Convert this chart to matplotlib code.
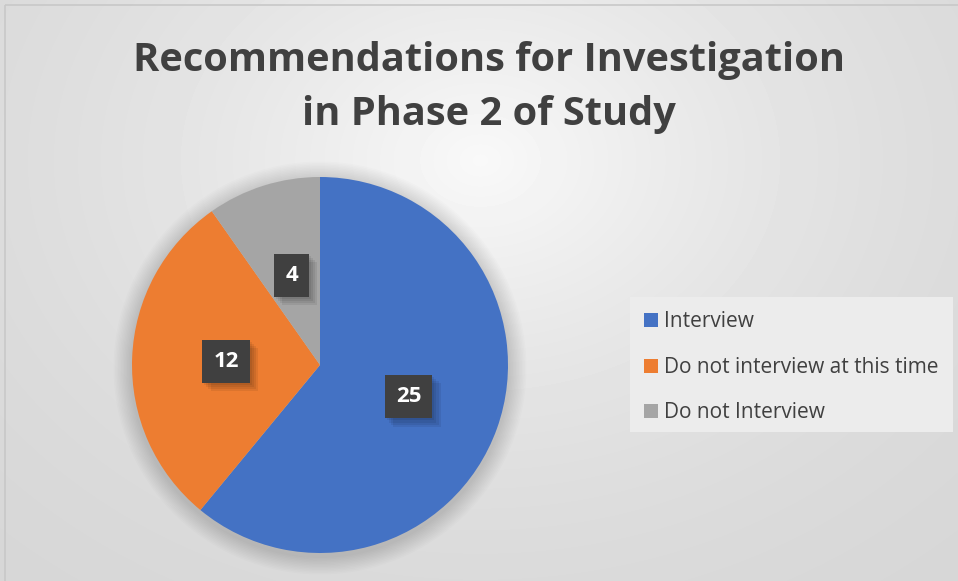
import numpy as np
import matplotlib
matplotlib.use("Agg")
import matplotlib.pyplot as plt
import matplotlib.patheffects as pe
from matplotlib.patches import Rectangle, Circle

# data
categories = ["Interview", "Do not interview at this time", "Do not Interview"]
counts = [25, 12, 4]
colors = ["#4472C4", "#ED7D31", "#A5A5A5"]
title = "Recommendations for Investigation\nin Phase 2 of Study"

W, H = 958, 581
fig = plt.figure(figsize=(W / 100, H / 100), dpi=100)

# radial grey gradient background
bg = fig.add_axes([0, 0, 1, 1])
yy, xx = np.mgrid[0:H, 0:W]
r = np.sqrt(((xx - 480) / 650.0) ** 2 + ((yy - 160) / 500.0) ** 2)
shade = 0.975 - 0.15 * np.tanh(1.3 * r)
bg.imshow(shade, cmap="gray", vmin=0, vmax=1, extent=(0, W, H, 0), aspect="auto")
bg.set_xlim(0, W)
bg.set_ylim(H, 0)
bg.axis("off")
# soft shadow under the pie
for k in range(12):
    bg.add_patch(Circle((320, 368), 188 + 2 + k * 1.5, color="black", alpha=0.012, lw=0))
# chart border (top and left visible)
bg.add_patch(Rectangle((5, 5), W + 20, H + 20, fill=False, ec="#c8c8c8", lw=1.2))
# legend background panel
bg.add_patch(Rectangle((630, 297), 323, 135, fc="#ececec", ec="none"))

# pie
R, cx, cy = 188, 320, 365
ax = fig.add_axes([(cx - R) / W, (H - cy - R) / H, 2 * R / W, 2 * R / H])
total = sum(counts)
wedges, texts, autotexts = ax.pie(
    counts,
    colors=colors,
    startangle=90,
    counterclock=False,
    radius=1,
    autopct=lambda p: f"{round(p * total / 100)}",
    pctdistance=0.5,
    wedgeprops=dict(lw=0),
)
ax.set_xlim(-1, 1)
ax.set_ylim(-1, 1)
ax.set_aspect("equal")
ax.axis("off")

# soft drop shadow built from a few faint offset copies
shadow = [pe.SimplePatchShadow(offset=(d, -d), shadow_rgbFace="black", alpha=0.07)
          for d in (1.5, 3, 4.5, 6)]
for t in autotexts:
    t.set_fontsize(16)
    t.set_fontweight("bold")
    t.set_family("Open Sans")
    t.set_color("white")
    t.set_bbox(dict(boxstyle="square,pad=0.5", fc="#404040", ec="none", lw=0))
    t.get_bbox_patch().set_path_effects(shadow + [pe.Normal()])

fig.text(0.51, 0.849, title, ha="center", va="center", fontsize=28.6, fontweight="bold",
         family="Open Sans", color="#404040", linespacing=1.5)

leg = fig.legend(
    wedges, categories,
    loc="upper left", bbox_to_anchor=(636 / W, 1 - 303 / H),
    frameon=False, handlelength=0.65, handleheight=0.65,
    handletextpad=0.3, labelspacing=1.18, borderaxespad=0,
    prop={"family": "Open Sans", "size": 15},
)
for txt in leg.get_texts():
    txt.set_color("#404040")

fig.savefig("out.png", dpi=100)
